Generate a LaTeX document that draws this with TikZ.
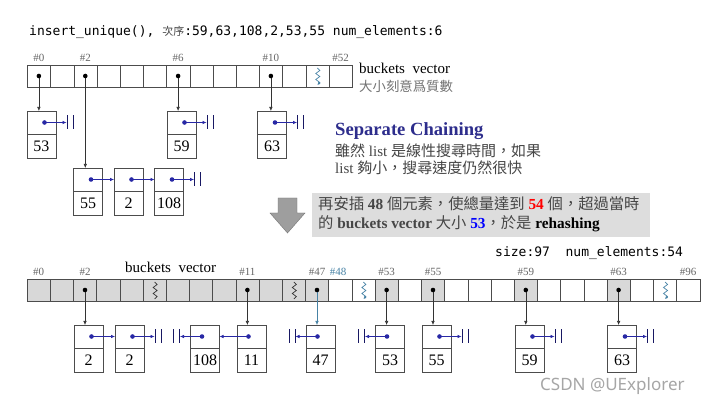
\documentclass[tikz,border=0pt]{standalone}
\usepackage{fontspec}
\setmainfont{Liberation Serif}
\setmonofont{DejaVu Sans Mono}
\newfontfamily\cjk{Noto Sans CJK TC}
\newfontfamily\wmfont{Noto Sans}
\usetikzlibrary{calc,positioning,arrows.meta}

\definecolor{ptrblue}{RGB}{40,40,165}
\definecolor{titleblue}{RGB}{45,45,140}
\definecolor{newteal}{RGB}{70,130,165}
\definecolor{cellgray}{RGB}{216,216,216}
\definecolor{boxgray}{RGB}{221,221,221}
\definecolor{txtgray}{RGB}{70,70,70}

\newcommand{\CellW}{23.2}
\newcommand{\NilBars}[2]{%
  \draw[Nil] ($(#1)+(#2*0.5,-7)$) -- ++(0,14) ($(#1)+(#2*6.5,-7)$) -- ++(0,14);}
\newcommand{\Zig}[2]{%
  \draw[line width=0.7pt,#2] ($(#1.north)+(0,3)$) -- ++(2.5,2.5) -- ++(-4,3)
    -- ++(4,3) -- ++(-4,3) -- ++(4,3) -- ++(-2.5,2.5);}

\tikzset{
  Cell/.style={draw=black!70, minimum width=\CellW pt, minimum height=22pt,
    inner sep=0pt, outer sep=0pt, anchor=north west},
  Ptr/.style={draw=black!70, minimum width=29pt, minimum height=23pt,
    inner sep=0pt, outer sep=0pt},
  Val/.style={draw=black!70, minimum width=29pt, minimum height=24pt,
    inner sep=0pt, outer sep=0pt, font=\fontsize{16}{16}\selectfont},
  Idx/.style={font=\fontsize{11}{11}\selectfont, text=black!60, anchor=base},
  Link/.style={ptrblue, semithick, -{Latex[length=4pt,width=3.5pt]}},
  Down/.style={black!80, semithick, -{Latex[length=4pt,width=3.5pt]}},
  Nil/.style={ptrblue!60!black, semithick},
}

\begin{document}
\begin{tikzpicture}[x=1pt, y=-1pt]
    \path[fill=white, use as bounding box] (0,0) rectangle (716,406);

    % heading lines
    \node[anchor=base west, inner sep=0pt, font=\fontsize{13}{15}\selectfont\ttfamily] (title) at (29,36)
        {insert\_unique(), {\cjk\fontsize{11}{13}\selectfont\color{txtgray}次序}:59,63,108,2,53,55 num\_elements:6};
    \node[anchor=base west, inner sep=0pt, font=\fontsize{13}{15}\selectfont\ttfamily] (size) at (495,257)
        {size:97\ \ num\_elements:54};

    % old buckets vector
    \foreach \i in {0,...,13}
        \node[Cell] (t\i) at ({27.3+\CellW*\i},65) {};
    \Zig{t12}{newteal,-{Latex[length=3pt,width=3pt]}}
    \foreach \c/\t in {t0/\#0, t2/\#2, t6/\#6, t10/\#10, t13/\#52}
        \node[Idx] (lab\c) at ($(\c.north)+(0,-3)$) {\t};
    \node[anchor=base west, inner sep=0pt, font=\fontsize{15}{15}\selectfont] (vec1) at (359,74) {buckets\enspace vector};
    \node[anchor=base west, inner sep=0pt, font=\cjk\fontsize{13.4}{14}\selectfont, text=black!55] (prime) at (359,92) {大小刻意爲質數};

    % old lists
    \foreach \nm/\x/\y in {53/41.5/122.5, 59/181.5/122.5, 63/272/122.5, 55/88/179.5, 2/128.5/179.5, 108/169/179.5}{
        \node[Ptr] (p\nm) at (\x,\y) {};
        \node[Val, below=0pt of p\nm] (v\nm) {\nm};
    }

    % note
    \node[anchor=base west, inner sep=0pt, font=\fontsize{18.6}{19}\selectfont\bfseries, text=titleblue] (sep) at (335,136) {Separate Chaining};
    \node[anchor=base west, inner sep=0pt, font=\fontsize{15}{17}\selectfont, text=txtgray] (note1) at (335,157)
        {{\cjk 雖然} list {\cjk 是線性搜尋時間，如果}};
    \node[anchor=base west, inner sep=0pt, font=\fontsize{15}{17}\selectfont, text=txtgray] (note2) at (335,174)
        {list {\cjk 夠小，搜尋速度仍然很快}};

    % rehash box and arrow
    \draw[black!55, fill=black!38] (278,198) -- (297,198) -- (297,213) -- (305,213) -- (287.5,233)
        -- (270,213) -- (278,213) -- cycle;
    \fill[boxgray] (312,193) rectangle (650,237);
    \node[anchor=base west, inner sep=0pt, font=\fontsize{15.3}{17}\selectfont, text=txtgray] (re1) at (318,210)
        {{\cjk 再安插} \textbf{48} {\cjk 個元素，使總量達到} \textcolor{red}{\textbf{54}} {\cjk 個，超過當時}};
    \node[anchor=base west, inner sep=0pt, font=\fontsize{15.3}{17}\selectfont, text=txtgray] (re2) at (318,229)
        {{\cjk 的} \textbf{buckets vector} {\cjk 大小} \textcolor{blue}{\textbf{53}}{\cjk ，於是} \textcolor{black}{\textbf{rehashing}}};

    % new buckets vector
    \foreach \i in {0,...,12,15,17,21,25}
        \node[Cell, fill=cellgray] (b\i) at ({27+\CellW*\i},279) {};
    \foreach \i in {13,14,16,18,19,20,22,23,24,26,27,28}
        \node[Cell] (b\i) at ({27+\CellW*\i},279) {};
    \Zig{b5}{black!80}
    \Zig{b11}{black!80}
    \Zig{b14}{newteal,-{Latex[length=3pt,width=3pt]}}
    \Zig{b27}{newteal,-{Latex[length=3pt,width=3pt]}}
    \foreach \c/\t in {b0/\#0, b2/\#2, b9/\#11, b12/\#47, b15/\#53, b17/\#55, b21/\#59, b25/\#63, b28/\#96}
        \node[Idx] (lab\c) at ($(\c.north)+(0,-3)$) {\t};
    \node[Idx, text=newteal] (labb13) at ($(b13.north)+(-2,-3)$) {\#48};
    \node[anchor=base west, inner sep=0pt, font=\fontsize{15}{15}\selectfont] (vec2) at (125,273) {buckets\enspace vector};

    % new lists
    \foreach \nm/\x/\val in {2a/88.5/2, 2b/129.5/2, 108/205/108, 11/251.5/11, 47/320.5/47,
                             53/390/53, 55/436.5/55, 59/529.5/59, 63/622/63}{
        \node[Ptr] (r\nm) at (\x,336.5) {};
        \node[Val, below=0pt of r\nm] (w\nm) {\val};
    }

    % bucket pointers
    \foreach \b/\n in {t0/p53, t2/p55, t6/p59, t10/p63, b2/r2a, b9/r11, b15/r53, b17/r55, b21/r59, b25/r63}{
        \draw[Down] (\b.center) -- (\b.center |- \n.north);
        \fill (\b.center) circle (2.3pt);
    }
    \draw[Down, newteal] (b12.center) -- (b12.center |- r47.north);
    \fill (b12.center) circle (2.3pt);

    % next links
    \foreach \a/\n/\s in {p55/p2.west/1, p2/p108.west/1, r2a/r2b.west/1, r11/r108.east/-1}{
        \coordinate (d\a) at ($(\a.center)+(\s*3,0)$);
        \draw[Link] (d\a) -- (\n);
        \fill[ptrblue] (d\a) circle (2.3pt);
    }
    \foreach \n/\s in {p53/1, p59/1, p63/1, p108/1, r2b/1, r55/1, r59/1, r63/1, r108/-1, r47/-1, r53/-1}{
        \coordinate (d\n) at ($(\n.center)+(\s*3,0)$);
        \coordinate (e\n) at ($(d\n)+(\s*22,0)$);
        \draw[Link] (d\n) -- (e\n);
        \NilBars{e\n}{\s}
        \fill[ptrblue] (d\n) circle (2.3pt);
    }

    \node[anchor=base west, inner sep=0pt, font=\wmfont\fontsize{17}{17}\selectfont, text=black!35] (mark) at (540,391) {CSDN @UExplorer};
\end{tikzpicture}
\end{document}
